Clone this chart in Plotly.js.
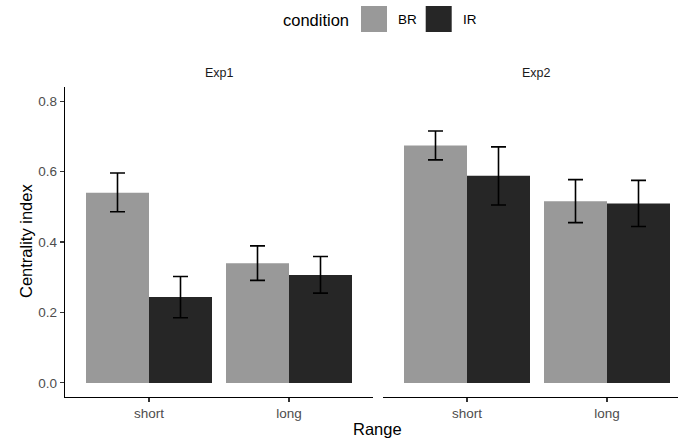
<!DOCTYPE html>
<html>
<head>
<meta charset="utf-8">
<script src="https://cdn.plot.ly/plotly-3.0.1.min.js"></script>
<style>
  html, body { margin: 0; padding: 0; background: #ffffff; }
  #chart { width: 678px; height: 439px; }
</style>
</head>
<body>
<div id="chart"></div>
<script>
// Range categories shared by both experiments
const ranges = ['short', 'long'];
const conditions = ['BR', 'IR'];

// Mean centrality index per experiment and condition
const exp1BR = [0.540, 0.340];
const exp1IR = [0.244, 0.306];
const exp2BR = [0.674, 0.516];
const exp2IR = [0.588, 0.509];

// Error bar limits (lower / upper)
const exp1BRLow = [0.486, 0.291];
const exp1BRHigh = [0.596, 0.389];
const exp1IRLow = [0.185, 0.255];
const exp1IRHigh = [0.302, 0.359];
const exp2BRLow = [0.633, 0.455];
const exp2BRHigh = [0.715, 0.577];
const exp2IRLow = [0.505, 0.444];
const exp2IRHigh = [0.670, 0.575];

const yTicks = [0.0, 0.2, 0.4, 0.6, 0.8];

const fillBR = '#999999';
const fillIR = '#262626';
const FONT = '"Liberation Sans", Arial, Helvetica, sans-serif';

// Pixel geometry of the plotting area
const W = 678, H = 439;
const M = { l: 65, r: 0, t: 87, b: 42 };
const PW = W - M.l - M.r, PH = H - M.t - M.b;
const px = x => (x - M.l) / PW;
const py = y => (H - M.b - y) / PH;

function errBar(vals, lo, hi) {
  return {
    type: 'data',
    symmetric: false,
    array: hi.map((h, i) => h - vals[i]),
    arrayminus: vals.map((v, i) => v - lo[i]),
    color: '#000000',
    thickness: 1.6,
    width: 7.5
  };
}

function barTrace(name, vals, lo, hi, color, xa) {
  return {
    type: 'bar',
    name: name,
    x: ranges,
    y: vals,
    xaxis: xa,
    yaxis: 'y',
    marker: { color: color, line: { width: 0 } },
    error_y: errBar(vals, lo, hi),
    showlegend: false,
    hoverinfo: 'x+y+name'
  };
}

const data = [
  barTrace(conditions[0], exp1BR, exp1BRLow, exp1BRHigh, fillBR, 'x'),
  barTrace(conditions[1], exp1IR, exp1IRLow, exp1IRHigh, fillIR, 'x'),
  barTrace(conditions[0], exp2BR, exp2BRLow, exp2BRHigh, fillBR, 'x2'),
  barTrace(conditions[1], exp2IR, exp2IRLow, exp2IRHigh, fillIR, 'x2')
];

const xCommon = {
  type: 'category',
  categoryorder: 'array',
  categoryarray: ranges,
  showline: true,
  linecolor: '#000000',
  linewidth: 1.2,
  ticks: 'outside',
  ticklen: 4,
  tickwidth: 1.1,
  tickcolor: '#333333',
  tickfont: { family: FONT, size: 13.5, color: '#4D4D4D' },
  showgrid: false,
  zeroline: false,
  fixedrange: true
};

const layout = {
  width: W,
  height: H,
  margin: M,
  paper_bgcolor: '#ffffff',
  plot_bgcolor: '#ffffff',
  font: { family: FONT, color: '#000000' },
  barmode: 'group',
  bargap: 0.1,
  bargroupgap: 0,
  showlegend: false,
  xaxis: Object.assign({}, xCommon, {
    domain: [0, px(373)],
    range: [-0.6, 1.6],
    anchor: 'y'
  }),
  xaxis2: Object.assign({}, xCommon, {
    domain: [px(383), 1],
    range: [-0.6, -0.6 + (W - 383) / 140],
    anchor: 'y'
  }),
  yaxis: {
    range: [-0.04, 0.84],
    tickvals: yTicks,
    ticktext: yTicks.map(v => v.toFixed(1)),
    showline: true,
    linecolor: '#000000',
    linewidth: 1.2,
    ticks: 'outside',
    ticklen: 4,
    tickwidth: 1.1,
    tickcolor: '#333333',
    tickfont: { family: FONT, size: 13.5, color: '#4D4D4D' },
    showgrid: false,
    zeroline: false,
    fixedrange: true
  },
  shapes: [
    { type: 'rect', xref: 'paper', yref: 'paper', x0: px(361), x1: px(387), y0: py(32), y1: py(6), fillcolor: fillBR, line: { width: 0 } },
    { type: 'rect', xref: 'paper', yref: 'paper', x0: px(425.7), x1: px(451.7), y0: py(32), y1: py(6), fillcolor: fillIR, line: { width: 0 } }
  ],
  annotations: [
    // facet strip labels
    { text: 'Exp1', xref: 'paper', yref: 'paper', x: px(219), y: py(73), xanchor: 'center', yanchor: 'middle', showarrow: false, font: { family: FONT, size: 12.5, color: '#1A1A1A' } },
    { text: 'Exp2', xref: 'paper', yref: 'paper', x: px(536.5), y: py(73), xanchor: 'center', yanchor: 'middle', showarrow: false, font: { family: FONT, size: 12.5, color: '#1A1A1A' } },
    // axis titles
    { text: 'Range', xref: 'paper', yref: 'paper', x: px(377.5), y: py(429), xanchor: 'center', yanchor: 'middle', showarrow: false, font: { family: FONT, size: 16.5, color: '#000000' } },
    { text: 'Centrality index', xref: 'paper', yref: 'paper', x: px(26), y: py(241), xanchor: 'center', yanchor: 'middle', textangle: -90, showarrow: false, font: { family: FONT, size: 16.5, color: '#000000' } },
    // legend
    { text: 'condition', xref: 'paper', yref: 'paper', x: px(281), y: py(20), xanchor: 'left', yanchor: 'middle', showarrow: false, font: { family: FONT, size: 16.5, color: '#000000' } },
    { text: conditions[0], xref: 'paper', yref: 'paper', x: px(395.5), y: py(19.5), xanchor: 'left', yanchor: 'middle', showarrow: false, font: { family: FONT, size: 13.5, color: '#000000' } },
    { text: conditions[1], xref: 'paper', yref: 'paper', x: px(460.5), y: py(19.5), xanchor: 'left', yanchor: 'middle', showarrow: false, font: { family: FONT, size: 13.5, color: '#000000' } }
  ]
};

Plotly.newPlot('chart', data, layout, { displayModeBar: false, staticPlot: true });
</script>
</body>
</html>
